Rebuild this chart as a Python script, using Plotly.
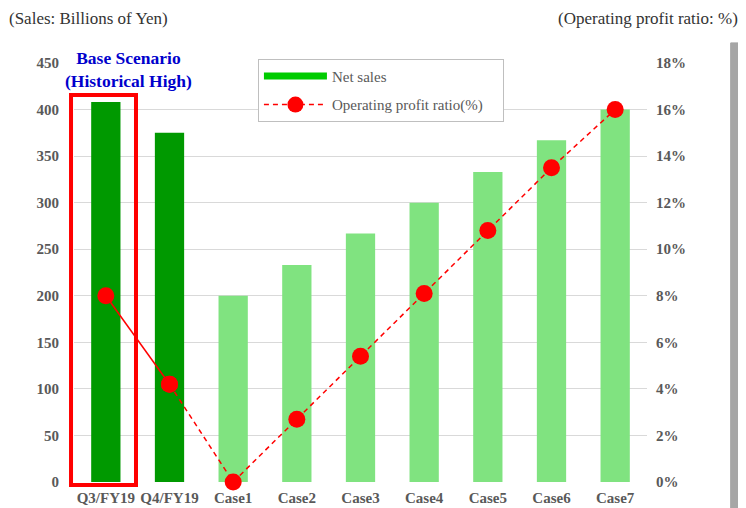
import plotly.graph_objects as go

categories = ["Q3/FY19", "Q4/FY19", "Case1", "Case2", "Case3", "Case4", "Case5", "Case6", "Case7"]
net_sales = [408, 375, 200, 233, 267, 300, 333, 367, 400]
profit_ratio = [8.0, 4.2, 0.0, 2.7, 5.4, 8.1, 10.8, 13.5, 16.0]
bar_colors = ["#009900", "#009900"] + ["#80e380"] * 7
left_ticks = [0, 50, 100, 150, 200, 250, 300, 350, 400, 450]
right_ticks = [0, 2, 4, 6, 8, 10, 12, 14, 16, 18]
right_labels = [f"{v}%" for v in right_ticks]

FONT = "Liberation Serif, Times New Roman, serif"
GREY = "#595959"
tick_font = dict(family=FONT, size=15, color=GREY, weight="bold")

fig = go.Figure()

fig.add_bar(
    x=categories, y=net_sales, marker=dict(color=bar_colors, line_width=0),
    showlegend=False, yaxis="y",
)
# legend swatch for the bars
fig.add_scatter(
    x=[None], y=[None], mode="lines", name="Net sales", legendgroup="a",
    line=dict(color="#00cc00", width=7),
)
# solid segment between the two actual quarters
fig.add_scatter(
    x=categories[:2], y=profit_ratio[:2], mode="lines+markers", yaxis="y2",
    line=dict(color="red", width=1.5), marker=dict(color="red", size=17),
    showlegend=False, cliponaxis=False,
)
fig.add_scatter(
    x=categories[1:], y=profit_ratio[1:], mode="lines+markers", yaxis="y2",
    name="Operating profit ratio(%)" + "\u00a0" * 4, legendgroup="b",
    line=dict(color="red", width=1.5, dash="5px,4px"),
    marker=dict(color="red", size=17), cliponaxis=False,
)

fig.update_layout(
    width=746, height=508,
    margin=dict(l=66, r=107, t=55, b=34, autoexpand=False),
    paper_bgcolor="white", plot_bgcolor="white",
    font=dict(family=FONT, size=15, color=GREY),
    bargap=0.54,
    xaxis=dict(
        type="category", range=[-0.5, 8.5], showgrid=False, showline=False,
        zeroline=False, tickfont=tick_font, ticks="", automargin=False,
        ticklabelstandoff=5,
    ),
    yaxis=dict(
        range=[0, 450], tickvals=left_ticks, showgrid=True,
        gridcolor="#d9d9d9", gridwidth=1, zeroline=False, showline=False,
        tickfont=tick_font, ticklabelstandoff=14, automargin=False,
    ),
    yaxis2=dict(
        range=[0, 18], tickvals=right_ticks, ticktext=right_labels, overlaying="y",
        side="right", showgrid=False, zeroline=False, showline=False,
        tickfont=tick_font, ticklabelstandoff=8, automargin=False,
    ),
    legend=dict(
        x=0.321, y=1.01, xanchor="left", yanchor="top",
        bgcolor="white", bordercolor="#bfbfbf", borderwidth=1,
        font=dict(family=FONT, size=15, color=GREY),
        itemwidth=63, tracegroupgap=6, traceorder="grouped",
    ),
)

# red box around the base scenario (paper refs so it is not clipped)
fig.add_shape(
    type="rect", xref="paper", yref="paper", x0=-0.0052, x1=0.1082, y0=-0.0072, y1=0.9236,
    line=dict(color="red", width=4), fillcolor="rgba(0,0,0,0)", layer="above",
)
# grey strip at the right edge
fig.add_shape(
    type="rect", xref="paper", yref="paper", x0=1.146, x1=1.18, y0=-0.07, y1=1.048,
    line=dict(color="#a6a6a6", width=1), fillcolor="#a6a6a6", layer="above",
)

fig.add_annotation(
    x=0.35, y=1, xref="x", yref="paper", yshift=-6,
    text="<b>Base Scenario<br>(Historical High)</b>",
    showarrow=False, font=dict(family=FONT, size=17.5, color="#0000cc"),
    yanchor="middle",
)
fig.add_annotation(
    x=0, y=1, xref="paper", yref="paper", xshift=-67, yshift=45, text="(Sales: Billions of Yen)",
    showarrow=False, xanchor="left", yanchor="middle",
    font=dict(family=FONT, size=17, color="#333333"),
)
fig.add_annotation(
    x=1, y=1, xref="paper", yref="paper", xshift=93, yshift=45, text="(Operating profit ratio: %)",
    showarrow=False, xanchor="right", yanchor="middle",
    font=dict(family=FONT, size=17, color="#333333"),
)

fig.write_html("out.html")
